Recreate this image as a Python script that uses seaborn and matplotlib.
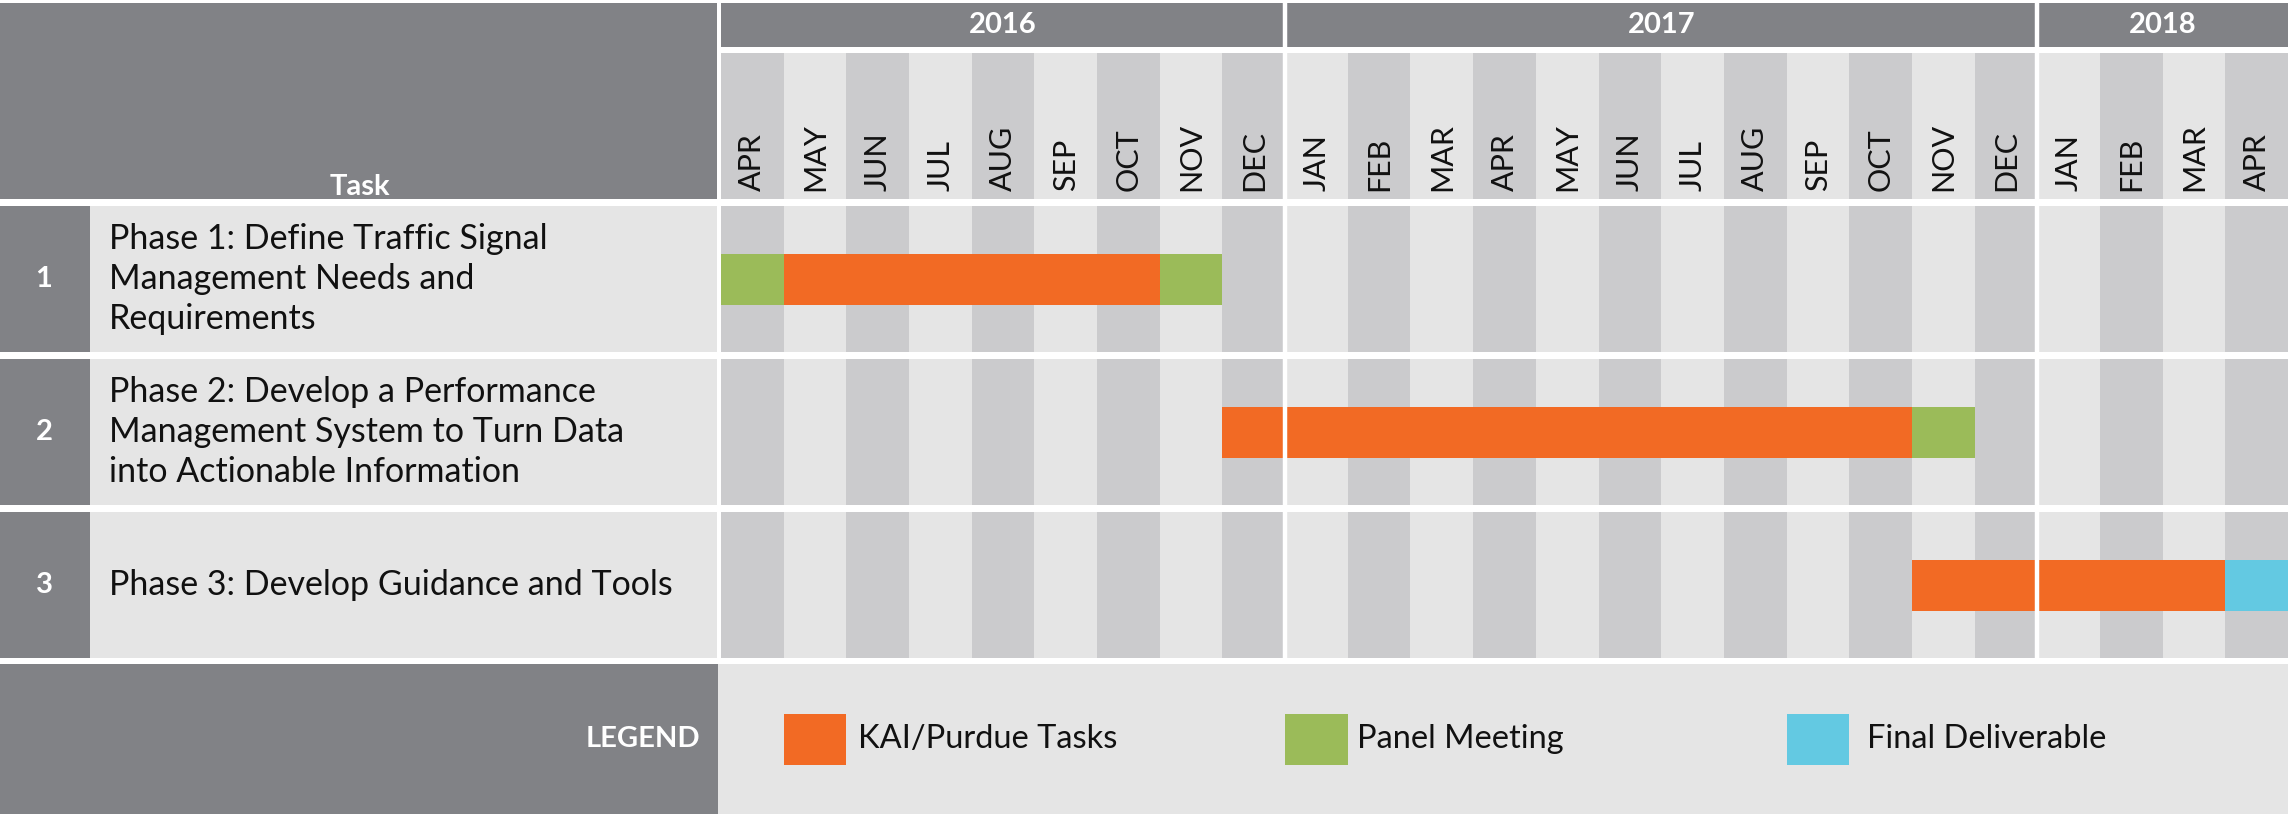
import numpy as np
import seaborn as sns
import matplotlib.pyplot as plt

# -------------------------------
# Data
# -------------------------------
years = ["2016", "2017", "2018"]
months_per_year = [9, 12, 4]
months = ["APR", "MAY", "JUN", "JUL", "AUG", "SEP", "OCT", "NOV", "DEC",
          "JAN", "FEB", "MAR", "APR", "MAY", "JUN", "JUL", "AUG", "SEP",
          "OCT", "NOV", "DEC",
          "JAN", "FEB", "MAR", "APR"]

task_ids = ["1", "2", "3"]
task_names = [
    "Phase 1: Define Traffic Signal\nManagement Needs and\nRequirements",
    "Phase 2: Develop a Performance\nManagement System to Turn Data\ninto Actionable Information",
    "Phase 3: Develop Guidance and Tools",
]

# gantt segments (task row, first month index, number of months, kind)
seg_task = [0, 0, 0, 1, 1, 2, 2]
seg_start = [0, 1, 7, 8, 19, 19, 24]
seg_length = [1, 6, 1, 11, 1, 5, 1]
seg_kind = ["Panel Meeting", "KAI/Purdue Tasks", "Panel Meeting",
            "KAI/Purdue Tasks", "Panel Meeting",
            "KAI/Purdue Tasks", "Final Deliverable"]

legend_kinds = ["KAI/Purdue Tasks", "Panel Meeting", "Final Deliverable"]

# -------------------------------
# Style
# -------------------------------
sns.set_theme(style="white")
plt.rcParams["font.family"] = ["Lato", "DejaVu Sans"]

kind_colors = dict(zip(legend_kinds, ["#F26A24", "#9BBB59", "#63C9E2"]))
header_gray = "#818286"
stripe_dark = "#CBCBCD"
stripe_light = "#E5E5E5"

# -------------------------------
# Layout (pixels of the 2288x815 picture -> data units)
# -------------------------------
W, H = 2288, 815
grid_left = 721
col_w = (W - grid_left) / len(months)
row_pitch = 153
row0_mid = 279


def px_x(p):
    return (p - grid_left) / col_w


def px_y(p):
    return (p - row0_mid) / row_pitch


fig = plt.figure(figsize=(W / 100, H / 100), dpi=100)
ax = fig.add_axes([0, 0, 1, 1])
ax.set_xlim(px_x(0), px_x(W))
ax.set_ylim(px_y(H), px_y(0))
ax.axis("off")

n_months = len(months)
idx = np.arange(n_months)
stripe_colors = [stripe_dark if i % 2 == 0 else stripe_light for i in idx]
row_h = 146 / row_pitch
bar_h = 51 / row_pitch

# -------------------------------
# Header
# -------------------------------
ax.barh(px_y(101), px_x(717) - px_x(0), left=px_x(0),
        height=px_y(199) - px_y(3), color=header_gray, lw=0)
ax.text(px_x(360), px_y(195), "Task", ha="center", va="baseline",
        color="white", fontsize=21, fontweight="bold")

year_starts = np.concatenate([[0], np.cumsum(months_per_year)[:-1]])
ax.bar(year_starts, px_y(47) - px_y(3), bottom=px_y(3),
       width=months_per_year, align="edge", color=header_gray, lw=0)
for ys, n, yr in zip(year_starts, months_per_year, years):
    ax.text(ys + n / 2, px_y(25), yr, ha="center", va="center",
            color="white", fontsize=21, fontweight="bold")

ax.bar(idx, px_y(199) - px_y(53), bottom=px_y(53), width=1, align="edge",
       color=stripe_colors, lw=0)
for i, m in enumerate(months):
    ax.text(i + 0.5, px_y(191), m, rotation=90, ha="center", va="bottom",
            color="#111111", fontsize=22)

# -------------------------------
# Task rows
# -------------------------------
rows = np.arange(len(task_ids))
for r in rows:
    ax.bar(idx, row_h, bottom=r - row_h / 2, width=1, align="edge",
           color=stripe_colors, lw=0)
ax.barh(rows, px_x(90) - px_x(0), left=px_x(0), height=row_h,
        color=header_gray, lw=0)
ax.barh(rows, px_x(717) - px_x(90), left=px_x(90), height=row_h,
        color=stripe_light, lw=0)
for r, tid, name in zip(rows, task_ids, task_names):
    ax.text(px_x(44), r, tid, ha="center", va="center", color="white",
            fontsize=21, fontweight="bold")
    ax.text(px_x(109), r, name, ha="left", va="center", color="#111111",
            fontsize=24.5, linespacing=1.3)

ax.barh(seg_task, seg_length, left=seg_start, height=bar_h,
        color=[kind_colors[k] for k in seg_kind], lw=0)

# white year separators
ax.vlines(np.cumsum(months_per_year)[:-1], px_y(0), px_y(660),
          color="white", lw=3.2)

# -------------------------------
# Legend band
# -------------------------------
leg_y = px_y(739)
ax.barh(leg_y, px_x(718) - px_x(0), left=px_x(0),
        height=px_y(H) - px_y(665), color=header_gray, lw=0)
ax.barh(leg_y, px_x(W) - px_x(718), left=px_x(718),
        height=px_y(H) - px_y(665), color=stripe_light, lw=0)
ax.text(px_x(700), leg_y, "LEGEND", ha="right", va="center", color="white",
        fontsize=21, fontweight="bold")

legend_cols = [1, 9, 17]
legend_pad = [0.18, 0.15, 0.28]
ax.barh([leg_y] * 3, 1, left=legend_cols, height=bar_h,
        color=[kind_colors[k] for k in legend_kinds], lw=0)
for c, p, k in zip(legend_cols, legend_pad, legend_kinds):
    ax.text(c + 1 + p, leg_y, k, ha="left", va="center", color="#111111",
            fontsize=23.5)

fig.savefig("out.png", dpi=100)
plt.close(fig)
